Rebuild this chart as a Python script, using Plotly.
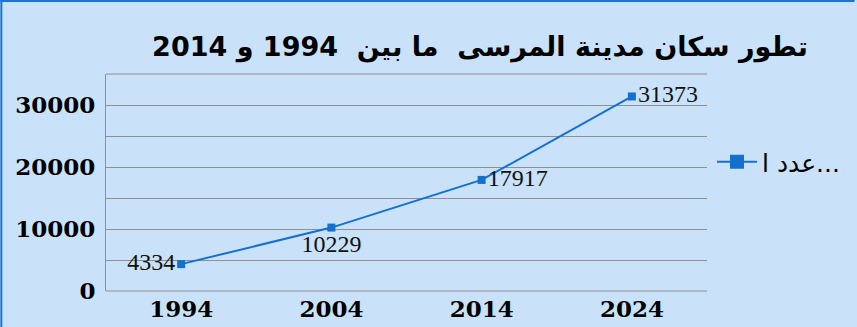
import plotly.graph_objects as go

years = ["1994", "2004", "2014", "2024"]
population = [4334, 10229, 17917, 31373]
label_positions = ["middle left", "bottom center", "middle right", "middle right"]
series_name = "عدد ا..."
title_text = "تطور سكان مدينة المرسى  ما بين  1994 و 2014"

W, H = 857, 327
L, R, T, B = 106, 148, 74, 36
pw = W - L - R
ph = H - T - B

line_color = "#1470cc"
grid_color = "#8f8f8f"
bg = "#c9e2f9"

fig = go.Figure()
fig.add_trace(go.Scatter(
    x=years, y=population, mode="lines+markers+text",
    text=[str(v) for v in population], textposition=label_positions,
    textfont=dict(family="Liberation Serif", size=24, color="#111111"),
    line=dict(color=line_color, width=2),
    marker=dict(symbol="square", size=8, color=line_color),
    showlegend=False, cliponaxis=False,
))
fig.add_trace(go.Scatter(
    x=[None], y=[None], mode="lines+markers", name=series_name,
    line=dict(color=line_color, width=2),
    marker=dict(symbol="square", size=14, color=line_color),
))

fig.update_layout(
    width=W, height=H,
    margin=dict(l=L, r=R, t=T, b=B, pad=0),
    paper_bgcolor=bg, plot_bgcolor=bg,
    title=dict(text=title_text, x=480 / W, xref="container", xanchor="center",
               y=1 - 47 / H, yref="container", yanchor="middle", automargin=False,
               font=dict(family="DejaVu Sans", size=27, color="#000000", weight="bold")),
    legend=dict(x=(714 - L) / pw, xanchor="left", y=1 - (162 - T) / ph, yanchor="middle",
                font=dict(family="DejaVu Sans", size=25, color="#000000"),
                bgcolor="rgba(0,0,0,0)", itemwidth=40),
    xaxis=dict(type="category", range=[-0.5, 3.5], showgrid=False, showline=False,
               zeroline=False, ticks="", ticklabelstandoff=2, automargin=False,
               tickfont=dict(family="DejaVu Serif", size=23, color="#000000", weight="bold")),
    yaxis=dict(range=[0, 35000], tickvals=[0, 10000, 20000, 30000],
               ticktext=["0", "10000", "20000", "30000"], automargin=False,
               showgrid=True, gridcolor=grid_color, gridwidth=1,
               minor=dict(tickvals=[5000, 15000, 25000], showgrid=True,
                          gridcolor=grid_color, gridwidth=1, ticks=""),
               showline=True, linecolor=grid_color, linewidth=1, zeroline=False,
               ticks="", ticklabelstandoff=5,
               tickfont=dict(family="DejaVu Serif", size=23, color="#000000", weight="bold")),
    shapes=[
        dict(type="line", xref="paper", yref="paper", x0=-L / pw, x1=(W - L) / pw,
             y0=1 + (T - 1) / ph, y1=1 + (T - 1) / ph, line=dict(color="#1a74d4", width=2)),
        dict(type="line", xref="paper", yref="paper", x0=-(L - 1) / pw, x1=-(L - 1) / pw,
             y0=-B / ph, y1=1 + T / ph, line=dict(color="#1a74d4", width=2)),
        dict(type="line", xref="paper", yref="paper", x0=0, x1=1, y0=0, y1=0,
             line=dict(color=grid_color, width=1)),
        dict(type="line", xref="paper", yref="paper", x0=0, x1=1, y0=1, y1=1,
             line=dict(color=grid_color, width=1)),
    ],
)

fig.write_html("out.html")
